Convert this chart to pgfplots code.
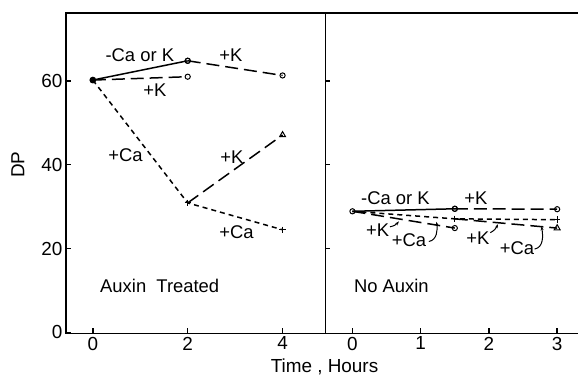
\documentclass[border=0pt]{standalone}
\usepackage{pgfplots}
\pgfplotsset{compat=1.18}
\usepackage{fontspec}
\setmainfont{Liberation Sans}
\usetikzlibrary{arrows.meta}
\begin{document}
\begin{tikzpicture}
\pgfplotsset{
  panel/.style={
    scale only axis, height=321bp,
    ymin=-0.24, ymax=76.2,
    tick pos=left, tick align=inside, major tick length=5bp,
    axis line style={line width=1.8bp},
    every tick/.style={line width=1.4bp, black},
    ticklabel style={font=\fontsize{19}{22}\selectfont},
    /pgf/number format/assume math mode=true,
    clip=false,
    every axis plot/.append style={line width=1.5bp, black},
  },
}
\tikzset{
  lab/.style={font=\fontsize{18.5}{22}\selectfont, inner sep=0pt},
  ld/.style={dash pattern=on 13bp off 6bp},
  sd/.style={dash pattern=on 5bp off 4bp},
  ar/.style={-{Stealth[length=4bp,width=3bp]}, line width=1bp},
  om/.style={mark=o, mark size=2.6bp, mark options={fill=white, solid, line width=1bp}},
}
\pgfplotstableread{
x y
0 60.2
2 64.8
}\LeftSolid
\pgfplotstableread{
x y
2 64.8
4 61.3
}\LeftKafter
\pgfplotstableread{
x y
0 60.2
2 61.0
}\LeftK
\pgfplotstableread{
x y
0 60.2
2 30.9
4 24.5
}\LeftCa
\pgfplotstableread{
x y
2 30.9
4 47.1
}\LeftCaK
% left panel
\begin{axis}[panel, at={(0,0)}, anchor=south west, width=260bp,
  xmin=-0.568, xmax=4.905, xtick={0,2,4}, ytick={0,20,40,60}]
\addplot[sd, mark=+, mark size=3.2bp, mark indices={2,3}, mark options={solid, line width=1.1bp}] table {\LeftCa};
\addplot[ld, mark=triangle, mark size=3.4bp, mark indices={2}, mark options={solid, fill=white, line width=1bp}] table {\LeftCaK};
\addplot[ld, om, mark indices={2}] table {\LeftK};
\addplot[solid, om, mark indices={2}] table {\LeftSolid};
\addplot[ld, om] table {\LeftKafter};
\addplot[only marks, mark=*, mark size=2.6bp] coordinates {(0,60.2)};
\node[lab] at (axis cs:0.99,66.2) {-Ca or K};
\node[lab] at (axis cs:2.91,66.2) {+K};
\node[lab] at (axis cs:1.31,57.9) {+K};
\node[lab] at (axis cs:0.69,42.4) {+Ca};
\node[lab] at (axis cs:2.93,41.9) {+K};
\node[lab] at (axis cs:3.03,24.0) {+Ca};
\node[lab] at (axis cs:1.41,11.0) {Auxin\ \ Treated};
\end{axis}
\pgfplotstableread{
x y
0 28.9
1.5 29.5
}\RightSolid
\pgfplotstableread{
x y
1.5 29.5
3 29.4
}\RightKafter
\pgfplotstableread{
x y
0 28.9
1.5 24.9
}\RightK
\pgfplotstableread{
x y
0 28.9
1.5 27.1
3 26.9
}\RightCa
\pgfplotstableread{
x y
1.5 27.1
3 24.9
}\RightCaK
% right panel
\begin{axis}[panel, at={(260bp,0)}, anchor=south west, width=253bp,
  xmin=-0.395, xmax=3.307, xtick={0,1,2,3}, ytick={20,40,60}, yticklabels={},
  axis line style={draw=none}]
\draw[line width=1.8bp] (rel axis cs:0,1) -- (rel axis cs:1,1);
\draw[line width=1.8bp] (rel axis cs:0,0) -- (rel axis cs:1,0);
\draw[line width=1.8bp] (rel axis cs:0,0) -- (rel axis cs:0,1);
\addplot[sd, mark=+, mark size=3.2bp, mark indices={2,3}, mark options={solid, line width=1.1bp}] table {\RightCa};
\addplot[ld, mark=triangle, mark size=3.4bp, mark indices={2}, mark options={solid, fill=white, line width=1bp}] table {\RightCaK};
\addplot[ld, om, mark indices={2}] table {\RightK};
\addplot[solid, om] table {\RightSolid};
\addplot[ld, om] table {\RightKafter};
\node[lab] at (axis cs:0.63,32.1) {-Ca or K};
\node[lab] at (axis cs:1.81,32.1) {+K};
\node[lab] at (axis cs:0.37,24.3) {+K};
\node[lab] at (axis cs:0.83,21.9) {+Ca};
\node[lab] at (axis cs:1.84,22.6) {+K};
\node[lab] at (axis cs:2.41,20.2) {+Ca};
\node[lab] at (axis cs:0.57,11.0) {No Auxin};
\draw[ar] (axis cs:0.55,25.2) to[bend right=20] (axis cs:0.68,26.5);
\draw[ar] (axis cs:1.12,21.7) to[out=10,in=-80] (axis cs:1.23,26.4);
\draw[ar] (axis cs:2.02,23.8) to[bend right=20] (axis cs:2.13,25.8);
\draw[ar] (axis cs:2.67,19.9) to[out=10,in=-80] (axis cs:2.77,25.3);
\end{axis}
\node[font=\fontsize{19}{22}\selectfont] at (259bp,-33bp) {Time , Hours};
\node[font=\fontsize{19}{22}\selectfont, rotate=90] at (-48bp,169bp) {DP};
\path[use as bounding box] (-66bp,-51bp) rectangle (513bp,334bp);
\end{tikzpicture}
\end{document}
